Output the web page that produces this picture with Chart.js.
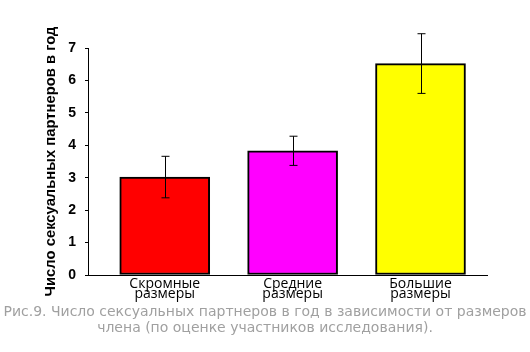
<!DOCTYPE html>
<html>
<head>
<meta charset="utf-8">
<script src="https://cdn.jsdelivr.net/npm/chart.js@4"></script>
<style>
  html, body { margin: 0; padding: 0; background: #fff; }
  #wrap { width: 530px; height: 352px; }
</style>
</head>
<body>
<div id="wrap"><canvas id="sizeChart" width="530" height="352"></canvas></div>
<script>
// data
const categories = ["Скромные размеры", "Средние размеры", "Большие размеры"];
const means = [3.02, 3.83, 6.52];
const errors = [0.64, 0.45, 0.92];
const barColors = ["#ff0000", "#ff00ff", "#ffff00"];
const yTicks = [0, 1, 2, 3, 4, 5, 6, 7];
const caption = [
  "Рис.9. Число сексуальных партнеров в год в зависимости от размеров",
  "члена (по оценке участников исследования)."
];

// error bars drawn from the same scales as the bars
const errorBars = {
  id: "errorBars",
  afterDatasetsDraw(chart) {
    const { ctx, scales: { x, y } } = chart;
    ctx.save();
    ctx.strokeStyle = "#000";
    ctx.lineWidth = 1;
    means.forEach((m, i) => {
      const px = Math.round(x.getPixelForValue(i + 1)) + 0.5;
      const top = y.getPixelForValue(m + errors[i]);
      const bot = y.getPixelForValue(m - errors[i]);
      ctx.beginPath();
      ctx.moveTo(px, top); ctx.lineTo(px, bot);
      ctx.moveTo(px - 4, top); ctx.lineTo(px + 4, top);
      ctx.moveTo(px - 4, bot); ctx.lineTo(px + 4, bot);
      ctx.stroke();
    });
    ctx.restore();
  }
};

// figure caption under the chart, full canvas width
const captionPlugin = {
  id: "caption",
  afterDraw(chart) {
    const ctx = chart.ctx;
    ctx.save();
    ctx.fillStyle = "#a0a0a0";
    ctx.font = "14px 'DejaVu Sans'";
    ctx.textAlign = "center";
    ctx.textBaseline = "middle";
    caption.forEach((line, i) => {
      ctx.fillText(line, chart.width / 2, chart.height - 40 + i * 16);
    });
    ctx.restore();
  }
};

new Chart(document.getElementById("sizeChart"), {
  type: "bar",
  data: {
    datasets: [{
      data: means.map((m, i) => ({ x: i + 1, y: m })),
      backgroundColor: barColors,
      borderColor: "#000",
      borderWidth: 2,
      borderSkipped: false,
      barThickness: 90
    }]
  },
  options: {
    responsive: false,
    animation: false,
    layout: { padding: { top: 48, right: 43, left: 40, bottom: 48 } },
    plugins: {
      legend: { display: false },
      tooltip: { enabled: false }
    },
    scales: {
      x: {
        type: "linear",
        offset: false,
        min: 0.4,
        max: 3.52,
        afterBuildTicks: s => { s.ticks = categories.map((c, i) => ({ value: i + 1 })); },
        afterFit: s => { s.height = 29; },
        ticks: {
          color: "#000",
          autoSkip: false,
          maxRotation: 0,
          padding: -4,
          font: { family: "Open Sans", size: 14, lineHeight: 0.72 },
          callback: (v) => categories[v - 1] ? categories[v - 1].split(" ") : ""
        },
        grid: { display: false, offset: false },
        border: { display: true, color: "#000", width: 1 }
      },
      y: {
        min: 0,
        max: 7,
        afterBuildTicks: s => { s.ticks = yTicks.map(v => ({ value: v })); },
        afterFit: s => { s.width = 48; },
        ticks: {
          color: "#000",
          padding: 9,
          font: { family: "Liberation Sans", size: 14, weight: "bold" }
        },
        grid: { drawOnChartArea: false, drawTicks: true, tickLength: 3, color: "#000" },
        border: { display: true, color: "#000", width: 1 },
        title: {
          display: true,
          text: "Число сексуальных партнеров в год",
          color: "#000",
          font: { family: "Liberation Sans", size: 14.8, weight: "bold" },
          padding: { top: 2, bottom: 0 }
        }
      }
    }
  },
  plugins: [errorBars, captionPlugin]
});
</script>
</body>
</html>
